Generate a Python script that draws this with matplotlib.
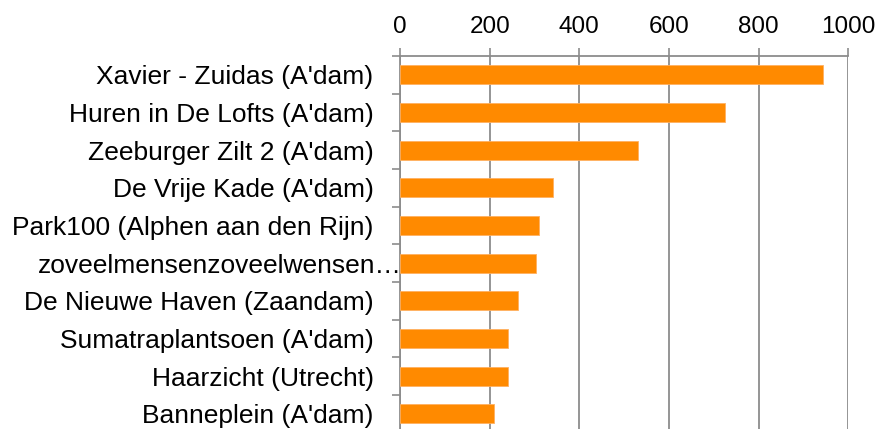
import numpy as np
import matplotlib
matplotlib.use("Agg")
import matplotlib.pyplot as plt
import matplotlib.transforms as mtransforms
from matplotlib.ticker import FixedLocator

# projects, top to bottom
labels = [
    "Xavier - Zuidas (A'dam)",
    "Huren in De Lofts (A'dam)",
    "Zeeburger Zilt 2 (A'dam)",
    "De Vrije Kade (A'dam)",
    "Park100 (Alphen aan den Rijn)",
    "zoveelmensenzoveelwensen\u2026",
    "De Nieuwe Haven (Zaandam)",
    "Sumatraplantsoen (A'dam)",
    "Haarzicht (Utrecht)",
    "Banneplein (A'dam)",
]
values = [944, 726, 532, 341, 311, 303, 263, 241, 240, 209]
xticks = [0, 200, 400, 600, 800, 1000]

plt.rcParams["font.family"] = ["Liberation Sans", "DejaVu Sans"]

fig = plt.figure(figsize=(8.81, 4.29), dpi=100)
ax = fig.add_axes([400 / 881, -0.0085, 448.3 / 881, 0.878])

n = len(labels)
y = np.arange(n)
ax.barh(y, values, height=0.5, color="#ff8a00", edgecolor="#ffb060",
        linewidth=0.6, zorder=3)

ax.set_ylim(n - 0.5, -0.5)
ax.set_xlim(0, 1000)

ax.xaxis.tick_top()
ax.set_xticks(xticks)
ax.set_xticklabels([str(t) for t in xticks])
ax.tick_params(axis="x", which="major", top=True, bottom=False, length=6,
               width=1.2, color="#8c8c8c", pad=7, labelsize=17.5)

ax.set_yticks(y)
ax.set_yticklabels(labels)
ax.yaxis.set_minor_locator(FixedLocator(np.arange(n + 1) - 0.5))
ax.tick_params(axis="y", which="major", length=0, pad=19, labelsize=19)
ax.tick_params(axis="y", which="minor", length=6, width=1.2, color="#8c8c8c")

# truncated label runs right up to the axis in the original
lbl = ax.get_yticklabels()[5]
shift = mtransforms.ScaledTranslation(28 / 100, 0, fig.dpi_scale_trans)
lbl.set_transform(lbl.get_transform() + shift)

ax.grid(axis="x", color="#8c8c8c", linewidth=1.3, zorder=0)
for side in ["right", "bottom"]:
    ax.spines[side].set_visible(False)
for side in ["left", "top"]:
    ax.spines[side].set_color("#8c8c8c")
    ax.spines[side].set_linewidth(1.3)

fig.savefig("out.png", dpi=100)
